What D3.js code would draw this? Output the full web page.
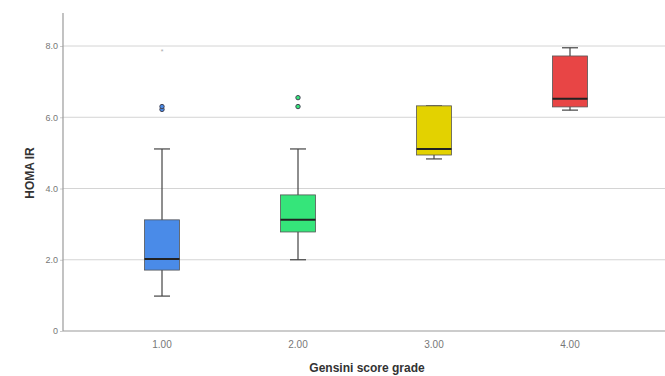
<!DOCTYPE html>
<html>
<head>
<meta charset="utf-8">
<script src="https://cdn.jsdelivr.net/npm/d3@7"></script>
<style>
  body { margin: 0; background: #fff; }
  text { font-family: Arial, "Liberation Sans", sans-serif; }
</style>
</head>
<body>
<script>
// grades on the x axis
var grades = ["1.00", "2.00", "3.00", "4.00"];
var fills = ["#4a8be8", "#35e57a", "#e3d200", "#e84545"];
// box stats per grade: low whisker, q1, median, q3, high whisker
var lowWhisker = [0.98, 2.0, 4.83, 6.2];
var q1 = [1.71, 2.78, 4.94, 6.29];
var median = [2.02, 3.12, 5.11, 6.52];
var q3 = [3.12, 3.82, 6.32, 7.72];
var highWhisker = [5.11, 5.11, 6.32, 7.95];
// outliers, [grade index, value]
var outliers = [[0, 6.22], [0, 6.3], [1, 6.3], [1, 6.55]];
var extremes = [[0, 7.85]];
var yTicks = [0, 2, 4, 6, 8];

var width = 665, height = 376;

var svg = d3.select("body")
  .append("svg")
  .attr("width", width)
  .attr("height", height);

var x = d3.scalePoint()
  .domain(grades)
  .range([63, 669])
  .padding(0.728);

var y = d3.scaleLinear()
  .domain([0, 8])
  .range([331, 46]);

var boxW = 35;

// gridlines
svg.append("g")
  .selectAll("line")
  .data(yTicks.filter(function(d) { return d > 0; }))
  .enter().append("line")
    .attr("x1", 63)
    .attr("x2", width)
    .attr("y1", function(d) { return y(d); })
    .attr("y2", function(d) { return y(d); })
    .attr("stroke", "#d4d4d4")
    .attr("stroke-width", 1);

// y axis
var yAxis = svg.append("g")
  .attr("transform", "translate(63,0)")
  .call(d3.axisLeft(y).tickValues(yTicks).tickSize(3)
    .tickFormat(function(d) { return d === 0 ? "0" : d3.format(".1f")(d); }));
yAxis.select(".domain").remove();
yAxis.selectAll(".tick line").attr("stroke", "#ccc");
yAxis.selectAll(".tick text")
  .attr("fill", "#777")
  .attr("font-size", 9)
  .attr("x", -5);
svg.append("line")
  .attr("x1", 63).attr("x2", 63)
  .attr("y1", 13).attr("y2", 331)
  .attr("stroke", "#9a9a9a")
  .attr("stroke-width", 1.2);

// x axis
svg.append("line")
  .attr("x1", 63).attr("x2", width)
  .attr("y1", 331).attr("y2", 331)
  .attr("stroke", "#9a9a9a")
  .attr("stroke-width", 1.2);
svg.append("g")
  .selectAll("text")
  .data(grades)
  .enter().append("text")
    .attr("x", function(d) { return x(d); })
    .attr("y", 348)
    .attr("text-anchor", "middle")
    .attr("font-size", 10)
    .attr("fill", "#777")
    .text(function(d) { return d; });

// axis titles
svg.append("text")
  .attr("x", 367)
  .attr("y", 372)
  .attr("text-anchor", "middle")
  .attr("font-size", 12)
  .attr("font-weight", "bold")
  .attr("fill", "#333")
  .text("Gensini score grade");

svg.append("text")
  .attr("transform", "translate(34,173) rotate(-90)")
  .attr("text-anchor", "middle")
  .attr("font-size", 12)
  .attr("font-weight", "bold")
  .attr("fill", "#333")
  .text("HOMA IR");

// boxes
var boxes = svg.append("g")
  .selectAll("g")
  .data(grades)
  .enter().append("g");

boxes.append("line")
  .attr("x1", function(d) { return x(d); })
  .attr("x2", function(d) { return x(d); })
  .attr("y1", function(d, i) { return y(lowWhisker[i]); })
  .attr("y2", function(d, i) { return y(highWhisker[i]); })
  .attr("stroke", "#444")
  .attr("stroke-width", 1.2);

[lowWhisker, highWhisker].forEach(function(arr) {
  boxes.append("line")
    .attr("x1", function(d) { return x(d) - 8; })
    .attr("x2", function(d) { return x(d) + 8; })
    .attr("y1", function(d, i) { return y(arr[i]); })
    .attr("y2", function(d, i) { return y(arr[i]); })
    .attr("stroke", "#444")
    .attr("stroke-width", 1.2);
});

boxes.append("rect")
  .attr("x", function(d) { return x(d) - boxW / 2; })
  .attr("width", boxW)
  .attr("y", function(d, i) { return y(q3[i]); })
  .attr("height", function(d, i) { return y(q1[i]) - y(q3[i]); })
  .attr("fill", function(d, i) { return fills[i]; })
  .attr("stroke", "#555")
  .attr("stroke-width", 0.8);

boxes.append("line")
  .attr("x1", function(d) { return x(d) - boxW / 2; })
  .attr("x2", function(d) { return x(d) + boxW / 2; })
  .attr("y1", function(d, i) { return y(median[i]); })
  .attr("y2", function(d, i) { return y(median[i]); })
  .attr("stroke", "#222")
  .attr("stroke-width", 2);

// outliers
svg.append("g")
  .selectAll("circle")
  .data(outliers)
  .enter().append("circle")
    .attr("cx", function(d) { return x(grades[d[0]]); })
    .attr("cy", function(d) { return y(d[1]); })
    .attr("r", 2.2)
    .attr("fill", function(d) { return fills[d[0]]; })
    .attr("stroke", "#445")
    .attr("stroke-width", 1);

svg.append("g")
  .selectAll("text")
  .data(extremes)
  .enter().append("text")
    .attr("x", function(d) { return x(grades[d[0]]); })
    .attr("y", function(d) { return y(d[1]) + 3; })
    .attr("text-anchor", "middle")
    .attr("font-size", 7)
    .attr("fill", "#aaa")
    .text("*");
</script>
</body>
</html>
